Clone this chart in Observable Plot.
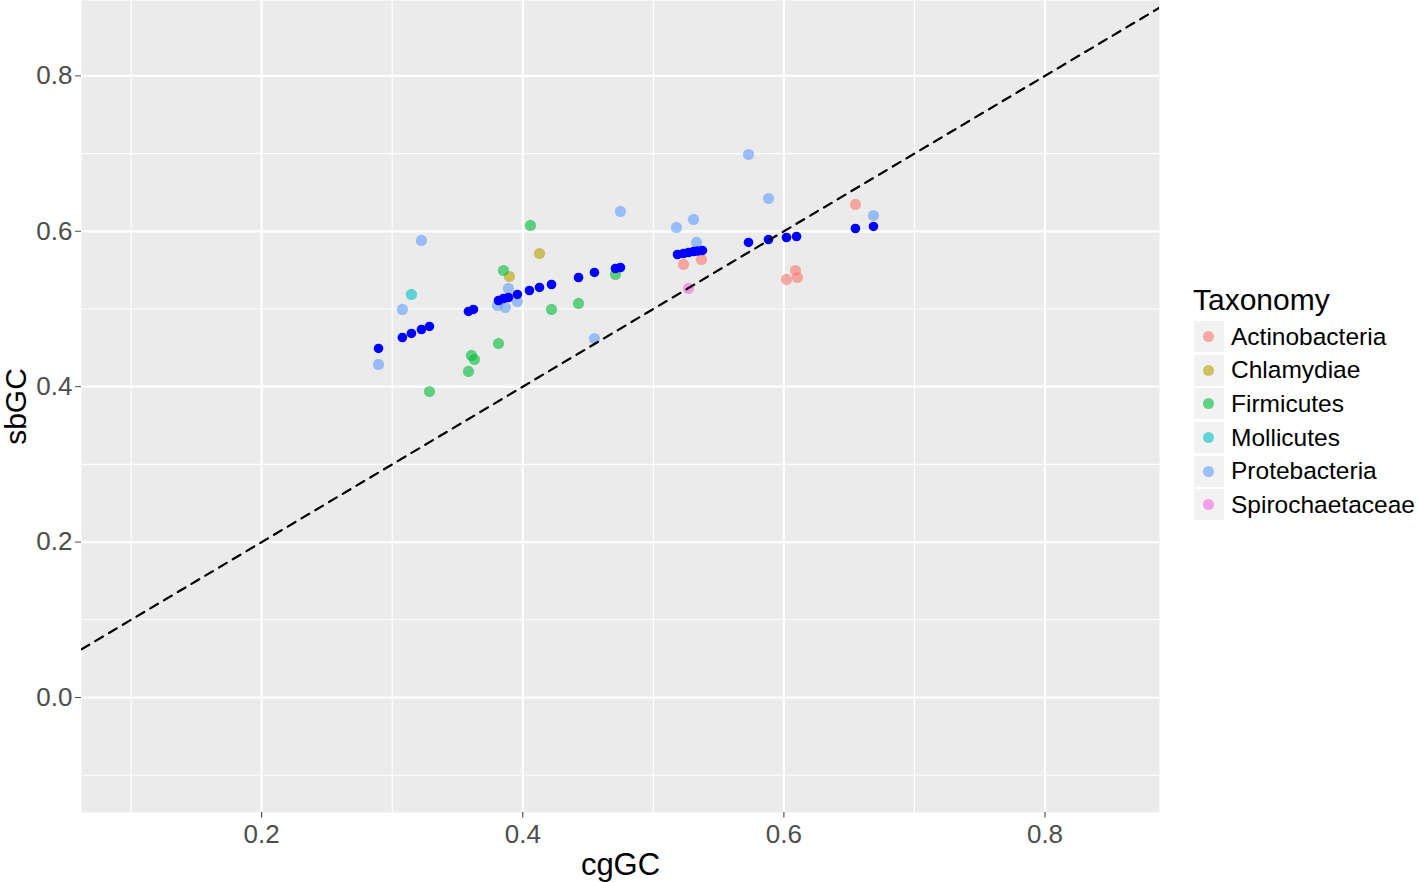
<!DOCTYPE html>
<html>
<head>
<meta charset="utf-8">
<script src="https://cdn.jsdelivr.net/npm/d3@7"></script>
<script src="https://cdn.jsdelivr.net/npm/@observablehq/plot@0.6"></script>
<style>
  html, body { margin: 0; padding: 0; background: #fff; }
  body { width: 1418px; height: 882px; overflow: hidden; font-family: "Liberation Sans", Arial, Helvetica, sans-serif; }
  #wrap { position: relative; width: 1418px; height: 882px; }
  #chart { position: absolute; left: 0; top: 0; }
  #legend { position: absolute; left: 1193px; top: 282px; color: #000; }
  #legend .title { font-size: 30px; line-height: 36px; margin-bottom: 2px; }
  #legend .row { display: flex; align-items: center; height: 33.6px; }
  #legend .key { width: 30px; height: 31px; background: #F2F2F2; position: relative; margin-right: 7px; margin-left: 1px; }
  #legend .key span { position: absolute; left: 9px; top: 10px; width: 11px; height: 11px; border-radius: 50%; opacity: 0.6; }
  #legend .lab { font-size: 24.5px; }
</style>
</head>
<body>
<div id="wrap">
  <div id="chart"></div>
  <div id="legend"></div>
</div>
<script>
// ---------- data ----------
const taxa = ["Actinobacteria", "Chlamydiae", "Firmicutes", "Mollicutes", "Protebacteria", "Spirochaetaceae"];
const taxaColors = ["#F8766D", "#B79F00", "#00BA38", "#00BFC4", "#619CFF", "#F564E3"];

const actinoX = [0.5231, 0.5369, 0.6020, 0.6089, 0.6104, 0.6548];
const actinoY = [0.5573, 0.5637, 0.5380, 0.5495, 0.5405, 0.6345];

const chlamX = [0.3898, 0.4128];
const chlamY = [0.5418, 0.5714];

const firmiX = [0.3285, 0.3584, 0.3607, 0.3630, 0.3814, 0.3852, 0.4059, 0.4220, 0.4427, 0.4710];
const firmiY = [0.3938, 0.4196, 0.4402, 0.4350, 0.4556, 0.5495, 0.6075, 0.4994, 0.5071, 0.5444];

const molliX = [0.3147];
const molliY = [0.5187];

const proteoX = [0.2895, 0.3078, 0.3224, 0.3806, 0.3867, 0.3890, 0.3959, 0.4549, 0.4748, 0.5177, 0.5308, 0.5331, 0.5729, 0.5882, 0.6686];
const proteoY = [0.4286, 0.4994, 0.5882, 0.5045, 0.5019, 0.5264, 0.5097, 0.4620, 0.6255, 0.6049, 0.6152, 0.5856, 0.6988, 0.6422, 0.6203];

const spiroX = [0.5269];
const spiroY = [0.5264];

// fitted (blue) points
const fitX = [0.2895, 0.3078, 0.3147, 0.3224, 0.3285, 0.3584, 0.3622, 0.3814, 0.3852, 0.3890, 0.3959, 0.4051, 0.4128, 0.4220, 0.4427, 0.4549, 0.4710, 0.4748, 0.5185, 0.5231, 0.5269, 0.5308, 0.5338, 0.5376, 0.5729, 0.5882, 0.6020, 0.6097, 0.6548, 0.6686];
const fitY = [0.4492, 0.4633, 0.4685, 0.4736, 0.4775, 0.4968, 0.4994, 0.5109, 0.5135, 0.5148, 0.5187, 0.5238, 0.5277, 0.5315, 0.5405, 0.5470, 0.5521, 0.5534, 0.5701, 0.5714, 0.5727, 0.5740, 0.5746, 0.5753, 0.5856, 0.5894, 0.5920, 0.5933, 0.6036, 0.6062];

const xMajor = [0.2, 0.4, 0.6, 0.8];
const xMinor = [0.1, 0.3, 0.5, 0.7];
const yMajor = [0.0, 0.2, 0.4, 0.6, 0.8];
const yMinor = [-0.1, 0.1, 0.3, 0.5, 0.7];
const xDomain = [0.062, 0.8877];
const yDomain = [-0.148, 0.897];
const abline = {intercept: 0, slope: 1};

// ---------- build tables ----------
const groups = [
  [actinoX, actinoY], [chlamX, chlamY], [firmiX, firmiY],
  [molliX, molliY], [proteoX, proteoY], [spiroX, spiroY]
];
const pts = [];
groups.forEach(([xs, ys], gi) => xs.forEach((x, i) => pts.push({cgGC: x, sbGC: ys[i], Taxonomy: taxa[gi]})));
const fit = fitX.map((x, i) => ({cgGC: x, sbGC: fitY[i]}));
const lineData = xDomain.map(x => ({x, y: abline.intercept + abline.slope * x}));

const chart = Plot.plot({
  width: 1165,
  height: 882,
  marginLeft: 81,
  marginRight: 6,
  marginTop: 0,
  marginBottom: 70,
  style: {fontFamily: '"Liberation Sans", Arial, Helvetica, sans-serif', background: "#fff", overflow: "visible"},
  x: {domain: xDomain},
  y: {domain: yDomain},
  color: {domain: taxa, range: taxaColors},
  marks: [
    Plot.frame({fill: "#EBEBEB", stroke: null}),
    Plot.ruleX(xMinor, {stroke: "#fff", strokeWidth: 1.1}),
    Plot.ruleY(yMinor, {stroke: "#fff", strokeWidth: 1.1}),
    Plot.ruleX(xMajor, {stroke: "#fff", strokeWidth: 2.2}),
    Plot.ruleY(yMajor, {stroke: "#fff", strokeWidth: 2.2}),
    Plot.dot(pts, {x: "cgGC", y: "sbGC", fill: "Taxonomy", r: 5.6, fillOpacity: 0.6, stroke: null}),
    Plot.dot(fit, {x: "cgGC", y: "sbGC", fill: "#0000FF", r: 4.8, stroke: null}),
    Plot.line(lineData, {x: "x", y: "y", stroke: "#000", strokeWidth: 2.2, strokeDasharray: "9,7", clip: "frame"}),
    Plot.axisX({ticks: xMajor, tickFormat: d3.format(".1f"), tickSize: 5.5, tickPadding: 7, fontSize: 26, color: "#4D4D4D", stroke: "#333", label: null}),
    Plot.axisY({ticks: yMajor, tickFormat: d3.format(".1f"), tickSize: 6, tickPadding: 3, fontSize: 26, color: "#4D4D4D", label: null}),
    Plot.text(["cgGC"], {frameAnchor: "bottom", dy: 62, fontSize: 31, fill: "#000", text: d => d}),
    Plot.text(["sbGC"], {frameAnchor: "left", textAnchor: "middle", dx: -65, rotate: -90, fontSize: 30, fill: "#000", text: d => d})
  ]
});
document.getElementById("chart").appendChild(chart);

// legend
const leg = document.getElementById("legend");
const t = document.createElement("div");
t.className = "title";
t.textContent = "Taxonomy";
leg.appendChild(t);
taxa.forEach((name, i) => {
  const row = document.createElement("div");
  row.className = "row";
  const key = document.createElement("div");
  key.className = "key";
  const dot = document.createElement("span");
  dot.style.background = taxaColors[i];
  key.appendChild(dot);
  const lab = document.createElement("div");
  lab.className = "lab";
  lab.textContent = name;
  row.appendChild(key);
  row.appendChild(lab);
  leg.appendChild(row);
});
</script>
</body>
</html>
